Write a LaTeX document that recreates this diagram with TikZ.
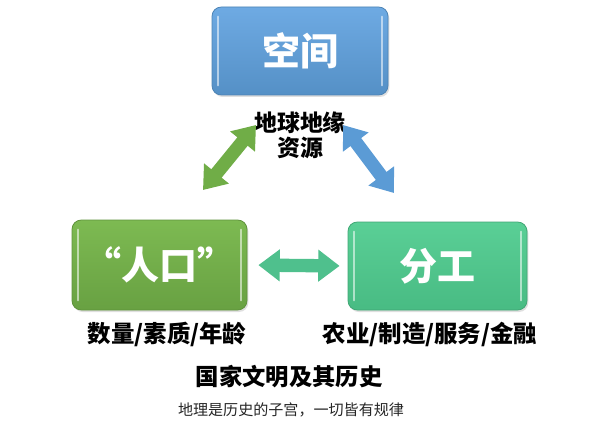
\documentclass[tikz,border=0pt]{standalone}
\usepackage{fontspec}
\setmainfont{Noto Sans CJK SC}
\usetikzlibrary{arrows.meta,shadows,calc}
\definecolor{boxblue}{HTML}{5B9BD5}
\definecolor{boxblueT}{HTML}{6EAAE3}
\definecolor{boxgreen}{HTML}{70AD47}
\definecolor{boxgreenT}{HTML}{7DBA52}
\definecolor{boxteal}{HTML}{4CC58A}
\definecolor{boxtealT}{HTML}{5ACF96}
\definecolor{arrteal}{HTML}{4FC08D}
\begin{document}
\begin{tikzpicture}[x=0.75pt,y=-0.75pt,
  gloss/.style={rounded corners=7pt, text=white, font=\fontsize{28.5}{31}\selectfont\bfseries,
    drop shadow={opacity=0.25, shadow xshift=1pt, shadow yshift=-1.5pt}},
  bluebox/.style={gloss, top color=boxblueT, bottom color=boxblue!93!black, draw=boxblue!85!black, line width=0.6pt},
  greenbox/.style={gloss, top color=boxgreenT, bottom color=boxgreen!93!black, draw=boxgreen!85!black, line width=0.6pt},
  tealbox/.style={gloss, top color=boxtealT, bottom color=boxteal!95!black, draw=boxteal!85!black, line width=0.6pt},
  shine/.style={white, opacity=0.55, line width=1.6pt, line cap=round},
  bigarrow/.style={line width=10pt, {Triangle[length=16pt,width=23pt]}-{Triangle[length=16pt,width=23pt]}},
  lbl/.style={font=\fontsize{17.6}{20}\selectfont\bfseries, text=black, inner sep=0pt},
  note/.style={font=\fontsize{11.3}{13}\selectfont, text=black!85, inner sep=0pt}
]
\useasboundingbox (0,0) rectangle (600,428);
\fill[white] (0,0) rectangle (600,428);

\node[bluebox, minimum width=176*0.75pt, minimum height=88*0.75pt] (kj) at (300,51) {空间};
\node[greenbox, minimum width=175*0.75pt, minimum height=90*0.75pt] (rk) at (159.5,265) {“人口”};
\node[tealbox, minimum width=179*0.75pt, minimum height=88*0.75pt] (fg) at (437.5,266) {分工};

\foreach \b in {kj,rk,fg}{
  \draw[shine] ($(\b.north west)+(6,10)$) -- ($(\b.south west)+(6,-10)$);
  \draw[shine] ($(\b.north east)+(-6,10)$) -- ($(\b.south east)+(-6,-10)$);
}

\node[lbl, align=center, font=\fontsize{17.2}{19.5}\selectfont\bfseries] (dq) at (300,135) {地球地缘\\[-0.5pt]资源};

\coordinate (g1) at (203,190);
\coordinate (g2) at (256,125);
\coordinate (b1) at (343,125);
\coordinate (b2) at (394,193);
\draw[bigarrow, boxgreen] (g1) -- (g2);
\draw[bigarrow, boxblue] (b1) -- (b2);
\draw[bigarrow, arrteal, shorten <=11pt*0.75, shorten >=8pt*0.75] (rk.east) -- (fg.west);

\node[lbl] (sl) at (167,334) {数量/素质/年龄};
\node[lbl] (ny) at (430,334) {农业/制造/服务/金融};
\node[lbl, font=\fontsize{17.5}{20}\selectfont\bfseries] (gj) at (289,377) {国家文明及其历史};
\node[note] (dl) at (291,410) {地理是历史的子宫，一切皆有规律};
\end{tikzpicture}
\end{document}
